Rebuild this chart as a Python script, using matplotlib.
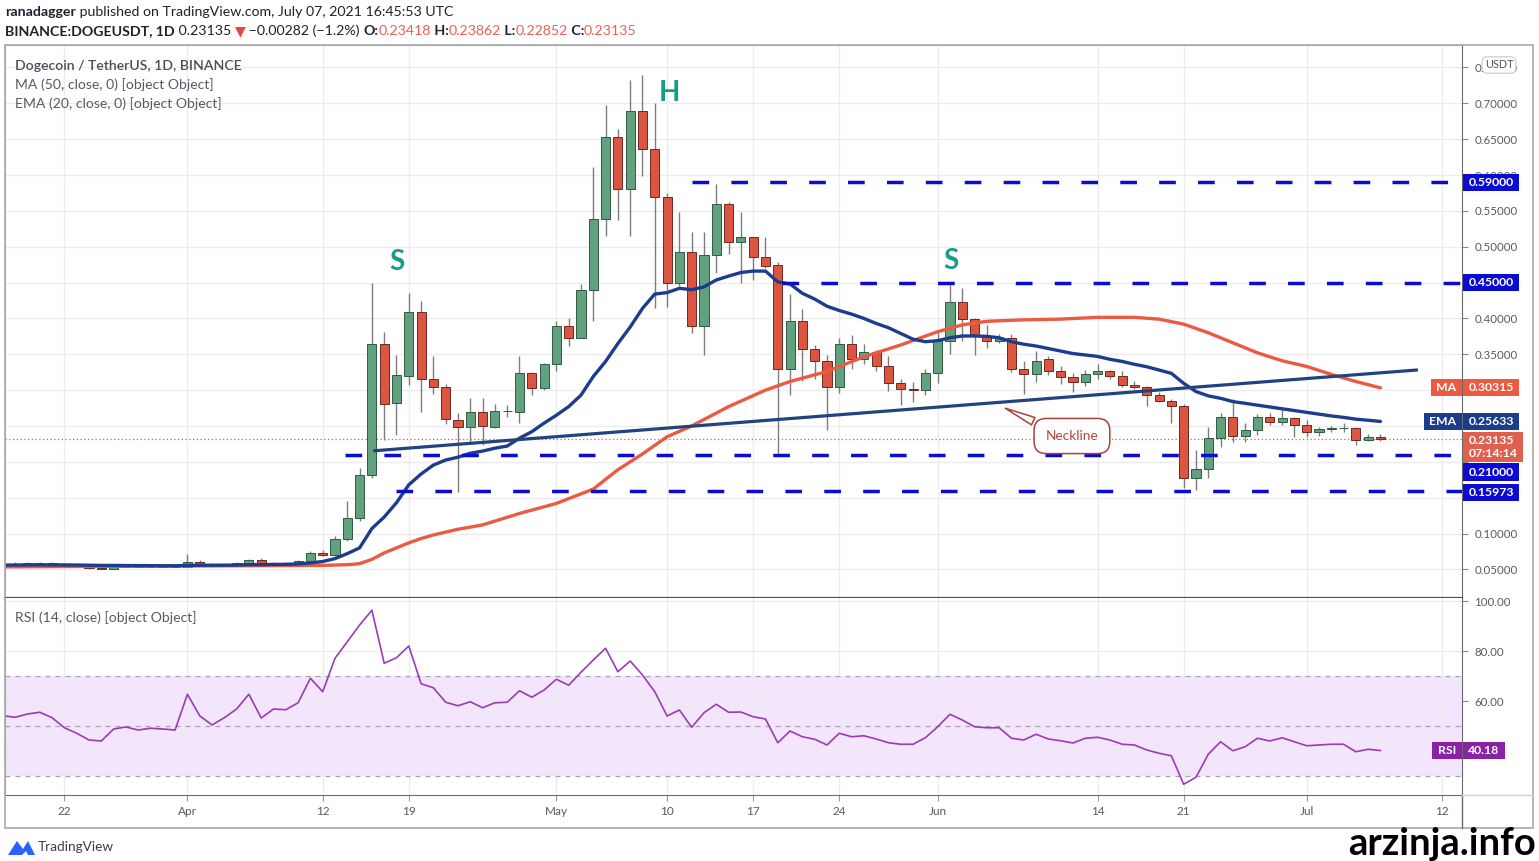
import numpy as np
import pandas as pd
import matplotlib
matplotlib.use("Agg")
import matplotlib.pyplot as plt
import matplotlib.dates as mdates
from matplotlib.patches import Rectangle, Polygon
from matplotlib.lines import Line2D

plt.rcParams['font.family'] = ['Lato', 'DejaVu Sans']

# ---- data ----
dates = pd.date_range('2021-03-17', '2021-07-07', freq='D')

opens = [
    0.0570, 0.0580, 0.0578, 0.0585, 0.0590, 0.0580, 0.0560, 0.0550, 0.0515, 0.0512, 0.0540, 0.0545, 0.0535, 0.0540, 0.0538,
    0.0535, 0.0610, 0.0580, 0.0560, 0.0572, 0.0588, 0.0628, 0.0570, 0.0595, 0.0592, 0.0620, 0.0724, 0.0700, 0.0928, 0.1210,
    0.1810, 0.3640, 0.2820, 0.3200, 0.4090, 0.3160, 0.3050, 0.2590, 0.2490, 0.2690, 0.2490, 0.2710, 0.2700, 0.3234, 0.3030,
    0.3360, 0.3900, 0.3730, 0.4400, 0.5380, 0.6530, 0.5800, 0.6890, 0.6360, 0.5700, 0.4490, 0.4930, 0.3890, 0.4880, 0.5600,
    0.5070, 0.5130, 0.4860, 0.4740, 0.3290, 0.3960, 0.3570, 0.3410, 0.3050, 0.3650, 0.3440, 0.3530, 0.3340, 0.3100, 0.3015, 0.3000,
    0.3240, 0.3690, 0.4225, 0.3990, 0.3755, 0.3690, 0.3720, 0.3300, 0.3230, 0.3430, 0.3260, 0.3180, 0.3110, 0.3220, 0.3270,
    0.3190, 0.3070, 0.3050, 0.2930, 0.2850, 0.2780, 0.1770, 0.1895, 0.2336, 0.2630, 0.2360, 0.2443, 0.2630, 0.2550, 0.2614,
    0.2513, 0.2420, 0.2453, 0.2467, 0.2470, 0.2304, 0.23418,
]
highs = [
    0.0590, 0.0600, 0.0600, 0.0610, 0.0605, 0.0590, 0.0570, 0.0565, 0.0530, 0.0545, 0.0550, 0.0550, 0.0550, 0.0548, 0.0545,
    0.0714, 0.0625, 0.0595, 0.0585, 0.0600, 0.0640, 0.0665, 0.0605, 0.0610, 0.0630, 0.0760, 0.0770, 0.0960, 0.1450, 0.1910,
    0.4490, 0.3810, 0.3490, 0.4350, 0.4240, 0.3470, 0.3090, 0.2680, 0.2890, 0.2890, 0.2800, 0.2790, 0.3480, 0.3250, 0.3380,
    0.3970, 0.4000, 0.4480, 0.6110, 0.6970, 0.6640, 0.7320, 0.7390, 0.7000, 0.5750, 0.5490, 0.5210, 0.5200, 0.5880, 0.5630,
    0.5490, 0.5140, 0.5140, 0.4780, 0.4340, 0.4130, 0.3630, 0.3490, 0.3720, 0.3770, 0.3650, 0.3560, 0.3480, 0.3160, 0.3120, 0.3290,
    0.3840, 0.4470, 0.4430, 0.4010, 0.3910, 0.3780, 0.3780, 0.3410, 0.3540, 0.3480, 0.3330, 0.3240, 0.3280, 0.3370, 0.3280,
    0.3260, 0.3130, 0.3060, 0.2980, 0.2870, 0.2810, 0.2165, 0.2480, 0.2685, 0.2870, 0.2540, 0.2670, 0.2680, 0.2745, 0.2620,
    0.2590, 0.2480, 0.2500, 0.2537, 0.2490, 0.2390, 0.23862,
]
lows = [
    0.0555, 0.0565, 0.0570, 0.0578, 0.0570, 0.0555, 0.0540, 0.0510, 0.0500, 0.0510, 0.0530, 0.0530, 0.0530, 0.0530, 0.0528,
    0.0530, 0.0570, 0.0550, 0.0555, 0.0565, 0.0580, 0.0550, 0.0565, 0.0580, 0.0585, 0.0615, 0.0680, 0.0690, 0.0900, 0.1170,
    0.1770, 0.2300, 0.2370, 0.3070, 0.2690, 0.2950, 0.2530, 0.1580, 0.2280, 0.2235, 0.2467, 0.2630, 0.2540, 0.2930, 0.3000,
    0.3260, 0.3610, 0.3720, 0.3970, 0.5150, 0.5370, 0.5150, 0.5990, 0.4140, 0.4160, 0.4450, 0.3800, 0.3490, 0.4630, 0.4900,
    0.4490, 0.4540, 0.4700, 0.2095, 0.2930, 0.3130, 0.3160, 0.2450, 0.2960, 0.3300, 0.3360, 0.3260, 0.2990, 0.2790, 0.2840, 0.2930,
    0.3095, 0.3500, 0.3690, 0.3490, 0.3590, 0.3660, 0.3250, 0.2950, 0.3120, 0.3210, 0.3090, 0.2980, 0.3060, 0.3160, 0.3160,
    0.3050, 0.3020, 0.2780, 0.2830, 0.2540, 0.1630, 0.1606, 0.1780, 0.2200, 0.2280, 0.2280, 0.2374, 0.2510, 0.2510, 0.2350,
    0.2350, 0.2365, 0.2420, 0.2420, 0.2234, 0.2285, 0.22852,
]
closes = [
    0.0580, 0.0578, 0.0585, 0.0590, 0.0580, 0.0560, 0.0550, 0.0515, 0.0512, 0.0540, 0.0545, 0.0535, 0.0540, 0.0538, 0.0535,
    0.0610, 0.0580, 0.0560, 0.0572, 0.0588, 0.0628, 0.0570, 0.0595, 0.0592, 0.0620, 0.0724, 0.0700, 0.0928, 0.1210, 0.1810,
    0.3640, 0.2810, 0.3210, 0.4090, 0.3160, 0.3050, 0.2600, 0.2490, 0.2695, 0.2500, 0.2710, 0.2715, 0.3234, 0.3030, 0.3370,
    0.3900, 0.3720, 0.4400, 0.5390, 0.6530, 0.5800, 0.6890, 0.6360, 0.5690, 0.4490, 0.4930, 0.3890, 0.4880, 0.5600, 0.5070,
    0.5130, 0.4860, 0.4735, 0.3290, 0.3960, 0.3570, 0.3410, 0.3050, 0.3650, 0.3440, 0.3530, 0.3340, 0.3100, 0.3015, 0.3000, 0.3240,
    0.3690, 0.4225, 0.3990, 0.3755, 0.3690, 0.3720, 0.3300, 0.3230, 0.3410, 0.3260, 0.3180, 0.3110, 0.3220, 0.3270, 0.3190,
    0.3070, 0.3050, 0.2930, 0.2850, 0.2780, 0.1770, 0.1895, 0.2336, 0.2630, 0.2360, 0.2443, 0.2630, 0.2550, 0.2614, 0.2513,
    0.2420, 0.2453, 0.2467, 0.2470, 0.2304, 0.2342, 0.23135,
]
ema20 = [
    0.0560, 0.0561, 0.0562, 0.0563, 0.0563, 0.0562, 0.0561, 0.0558, 0.0556, 0.0555, 0.0554, 0.0553, 0.0552, 0.0551, 0.0550,
    0.0556, 0.0558, 0.0558, 0.0559, 0.0560, 0.0566, 0.0566, 0.0569, 0.0571, 0.0576, 0.0590, 0.0610, 0.0650, 0.0720, 0.0800,
    0.1070, 0.1230, 0.1430, 0.1680, 0.1830, 0.1955, 0.2025, 0.2065, 0.2120, 0.2150, 0.2190, 0.2220, 0.2330, 0.2420, 0.2540,
    0.2650, 0.2770, 0.2930, 0.3190, 0.3400, 0.3650, 0.3880, 0.4140, 0.4340, 0.4360, 0.4420, 0.4400, 0.4440, 0.4536, 0.4590,
    0.4640, 0.4660, 0.4660, 0.4510, 0.4480, 0.4350, 0.4270, 0.4170, 0.4110, 0.4060, 0.4000, 0.3930, 0.3870, 0.3790, 0.3710, 0.3675,
    0.3690, 0.3730, 0.3755, 0.3755, 0.3750, 0.3730, 0.3675, 0.3640, 0.3615, 0.3580, 0.3545, 0.3510, 0.3490, 0.3470, 0.3430,
    0.3400, 0.3360, 0.3326, 0.3280, 0.3234, 0.3095, 0.2980, 0.2920, 0.2886, 0.2840, 0.2816, 0.2790, 0.2765, 0.2740, 0.2715,
    0.2690, 0.2665, 0.2640, 0.2620, 0.2595, 0.2580, 0.25633,
]
rsi14 = [
    54.1, 53.5, 54.8, 55.5, 53.3, 49.3, 47.1, 44.4, 44.0, 48.8, 49.6, 48.4, 49.1, 48.8, 48.4,
    62.7, 54.1, 50.4, 53.3, 56.8, 62.7, 53.2, 56.8, 56.5, 59.3, 69.1, 63.7, 77.1, 83.7, 90.4,
    96.3, 75.1, 77.3, 82.0, 66.9, 65.3, 59.5, 58.1, 59.7, 57.3, 59.3, 59.5, 64.1, 61.5, 64.4,
    68.7, 66.3, 71.5, 76.4, 81.1, 71.7, 76.0, 70.4, 63.7, 54.0, 56.4, 49.5, 55.3, 58.7, 55.5,
    55.6, 53.7, 52.8, 43.3, 48.0, 45.7, 44.7, 42.4, 47.1, 45.7, 46.1, 44.8, 43.3, 42.7, 42.7, 45.3,
    49.7, 54.7, 52.4, 49.7, 49.3, 49.3, 45.1, 44.4, 46.7, 44.8, 44.1, 43.2, 45.1, 45.5, 44.4,
    42.7, 42.4, 40.4, 39.1, 38.1, 26.7, 29.5, 38.7, 43.7, 40.1, 41.7, 45.1, 44.0, 45.3, 43.7,
    42.1, 42.4, 42.7, 42.7, 39.7, 40.7, 40.18,
]

# 50-day MA, read at points along the line
ma50_dates = ['2021-03-17', '2021-03-28', '2021-04-05', '2021-04-12', '2021-04-14', '2021-04-15', '2021-04-16',
              '2021-04-17', '2021-04-18', '2021-04-19', '2021-04-20', '2021-04-21', '2021-04-23', '2021-04-25',
              '2021-04-28', '2021-05-01', '2021-05-04', '2021-05-06', '2021-05-08', '2021-05-10', '2021-05-12',
              '2021-05-15', '2021-05-18', '2021-05-20', '2021-05-23', '2021-05-26', '2021-05-29', '2021-06-01',
              '2021-06-03', '2021-06-05', '2021-06-08', '2021-06-11', '2021-06-14', '2021-06-17', '2021-06-19',
              '2021-06-21', '2021-06-23', '2021-06-25', '2021-06-27', '2021-06-29', '2021-07-01', '2021-07-03',
              '2021-07-05', '2021-07-07']
ma50_vals = [0.0535, 0.0545, 0.0550, 0.0556, 0.0565, 0.0580, 0.0640,
             0.0730, 0.0800, 0.0870, 0.0930, 0.0980, 0.1060, 0.1120,
             0.1280, 0.1420, 0.1620, 0.1890, 0.2110, 0.2350, 0.2500,
             0.2770, 0.3000, 0.3120, 0.3260, 0.3466, 0.3630, 0.3815,
             0.3910, 0.3960, 0.3980, 0.3990, 0.4015, 0.4015, 0.3990,
             0.3920, 0.3800, 0.3660, 0.3520, 0.3410, 0.3330, 0.3220,
             0.3120, 0.30315]

# drawn levels and neckline
level_prices = [0.59, 0.45, 0.21, 0.15973]
level_labels = ['0.59000', '0.45000', '0.21000', '0.15973']
level_starts = ['2021-05-12 00:00', '2021-05-19 08:00', '2021-04-13 20:00', '2021-04-18 00:00']
neck_dates = ['2021-04-16 06:00', '2021-07-09 22:00']
neck_prices = [0.2155, 0.328]
last_price = 0.23135
ma_last, ema_last, rsi_last = 0.30315, 0.25633, 40.18

price_ticks = [0.05, 0.10, 0.15, 0.20, 0.25, 0.30, 0.35, 0.40, 0.45, 0.50, 0.55, 0.60, 0.65, 0.70, 0.75]
hidden_price_ticks = [0.15, 0.20, 0.25, 0.30, 0.45]   # covered by the tags in the original
rsi_ticks = [40, 60, 80, 100]

tick_dates = ['2021-03-22', '2021-04-01', '2021-04-12', '2021-04-19', '2021-05-01', '2021-05-10', '2021-05-17',
              '2021-05-24', '2021-06-01', '2021-06-14', '2021-06-21', '2021-07-01', '2021-07-12']
tick_labels = ['22', 'Apr', '12', '19', 'May', '10', '17', '24', 'Jun', '14', '21', 'Jul', '12']


def dnum(s):
    return mdates.date2num(pd.to_datetime(s).to_pydatetime())


x = mdates.date2num(dates.to_pydatetime())
o, h, l, c = map(np.array, (opens, highs, lows, closes))

# ---- figure in pixel layout ----
W, H = 1539, 861
fig = plt.figure(figsize=(W / 100, H / 100), dpi=100)


def fx(px):
    return px / W


def fy(py):
    return 1 - py / H


L, R = 5, 1462
ax = fig.add_axes([fx(L), fy(598), fx(R) - fx(L), fy(45) - fy(598)])
rax = fig.add_axes([fx(L), fy(795), fx(R) - fx(L), fy(598) - fy(795)], sharex=ax)

GREEN, GREEN_E = '#62a17e', '#2f5b43'
RED, RED_E = '#dc5541', '#6e2a20'
EMA_C, MA_C = '#1c3d8c', '#ec5a42'
LVL_C = '#0b0bd2'
GRID = '#ececf0'
TXT = '#555a63'

apr12 = dnum('2021-04-12')
ax.set_xlim(apr12 - 25.83, apr12 + 92.63)
ax.set_ylim(0.0101, 0.7813)
rax.set_ylim(22.4, 101.2)

# candles
up = c >= o
ax.vlines(x, l, h, color='#7d7d7d', lw=1, zorder=3)
ax.bar(x[up], (c - o)[up], bottom=o[up], width=0.74, color=GREEN, edgecolor=GREEN_E, lw=0.7, zorder=4)
ax.bar(x[~up], (o - c)[~up], bottom=c[~up], width=0.74, color=RED, edgecolor=RED_E, lw=0.7, zorder=4)

# moving averages
ax.plot(dnum(ma50_dates), ma50_vals, color=MA_C, lw=2.4, zorder=5, solid_capstyle='round')
ax.plot(x, ema20, color=EMA_C, lw=2.4, zorder=5, solid_capstyle='round')

# neckline and levels
ax.plot(dnum(neck_dates), neck_prices, color='#23437e', lw=2.3, zorder=6)
xr = ax.get_xlim()[1]
for p, s in zip(level_prices, level_starts):
    ax.plot([dnum(s), xr], [p, p], color=LVL_C, lw=2.5, dashes=(4.8, 6.4), zorder=6)
ax.axhline(last_price, color='#e05a4a', lw=0.9, ls=(0, (1, 2)), zorder=2)

# pattern letters
for s, d, p in [('S', '2021-04-18', 0.479), ('H', '2021-05-10 05:00', 0.714), ('S', '2021-06-02 01:00', 0.480)]:
    ax.text(dnum(d), p, s, color='#179c89', fontsize=20, fontweight='bold', ha='center', va='center', zorder=7)

ax.annotate('Neckline', xy=(dnum('2021-06-06 07:00'), 0.2764), xytext=(dnum('2021-06-11 22:00'), 0.236),
            ha='center', va='center', color='#b5453f', fontsize=9.8, zorder=8,
            bbox=dict(boxstyle='round,pad=0.85,rounding_size=0.9', fc='white', ec='#a8423a', lw=1.1),
            arrowprops=dict(arrowstyle='wedge,tail_width=0.6,shrink_factor=0.5', fc='white', ec='#a8423a',
                            lw=1.1, relpos=(0.15, 0.95)))

# RSI pane
rax.axhspan(30, 70, color='#f3e5fb', lw=0, zorder=1)
for lv in (70, 50, 30):
    rax.axhline(lv, color='#a3a3ad', lw=0.9, dashes=(4, 4), zorder=2)
rax.plot(x, rsi14, color='#9c3bb4', lw=1.2, zorder=4)

# ticks, grid, spines
xt = dnum(tick_dates)
rax.set_xticks(xt)
rax.set_xticklabels(tick_labels)
ax.tick_params(axis='x', bottom=False, labelbottom=False)
rax.tick_params(axis='x', length=4, color='#999', labelcolor=TXT, labelsize=8.5, pad=4)

ax.yaxis.tick_right()
ax.set_yticks(price_ticks)
ax.set_yticklabels(['' if v in hidden_price_ticks else '%.5f' % v for v in price_ticks])
rax.yaxis.tick_right()
rax.set_yticks(rsi_ticks)
rax.set_yticklabels(['' if v == 40 else '%.2f' % v for v in rsi_ticks])
for a in (ax, rax):
    a.tick_params(axis='y', length=4, color='#888', labelcolor=TXT, labelsize=8.3, pad=5)
    a.grid(True, color=GRID, lw=1, zorder=0)
    a.set_facecolor('white')
    a.spines['left'].set_color('#b5b5b5')
    a.spines['right'].set_color('#6a6a6a')
    a.spines['top'].set_color('#b5b5b5')
ax.spines['bottom'].set_color('#505050')
ax.spines['bottom'].set_linewidth(1.6)
rax.spines['top'].set_visible(False)
rax.spines['bottom'].set_color('#6a6a6a')

# right-hand price tags
yt = ax.get_yaxis_transform()
ryt = rax.get_yaxis_transform()


def tag(a, trans, y, text, fc, dy=0, right=False, size=8.8):
    a.annotate(text, xy=(1.0, y), xycoords=trans, xytext=(-4.2 if right else 4.6, dy), textcoords='offset points',
               ha='right' if right else 'left', va='center', color='white', fontsize=size, fontweight='bold',
               annotation_clip=False, zorder=20,
               bbox=dict(boxstyle='square,pad=0.45', mutation_aspect=0.55, fc=fc, ec='none'))


for p, t in zip(level_prices, level_labels):
    tag(ax, yt, p, t, LVL_C, dy=-12.5 if p == 0.21 else (-1 if p < 0.2 else 0))
tag(ax, yt, ma_last, '%.5f' % ma_last, MA_C)
tag(ax, yt, ma_last, 'MA', MA_C, right=True)
tag(ax, yt, ema_last, '%.5f' % ema_last, EMA_C)
tag(ax, yt, ema_last, 'EMA', EMA_C, right=True)
tag(ax, yt, last_price, '%.5f\n07:14:14' % last_price, '#e0604f', dy=-5.5)
tag(rax, ryt, rsi_last, '%.2f' % rsi_last, '#8a22a6')
tag(rax, ryt, rsi_last, 'RSI', '#8a22a6', right=True)

fig.text(fx(1499), fy(65), 'USDT', ha='center', va='center', fontsize=7.8, color='#555',
         bbox=dict(boxstyle='round,pad=0.25,rounding_size=0.5', fc='white', ec='#c8c8c8', lw=0.8))

# frame around chart + axis column
fig.add_artist(Rectangle((fx(5), fy(828)), fx(1533) - fx(5), fy(45) - fy(828), transform=fig.transFigure,
                         fill=False, ec='#a8a8a8', lw=1.2))
fig.add_artist(Line2D([fx(R), fx(R)], [fy(795), fy(828)], color='#6a6a6a', lw=1))
fig.add_artist(Line2D([fx(R), fx(1533)], [fy(795), fy(795)], color='#d0d0d0', lw=1))

# header / legend rows of mixed-colour text
rend = fig.canvas.get_renderer()


def text_row(x0, y0, parts, size):
    xx = x0
    for s, col, wt in parts:
        t = fig.text(fx(xx), fy(y0), s, color=col, fontsize=size, fontweight=wt, ha='left', va='center')
        xx += t.get_window_extent(renderer=rend).width


DK, SAL = '#1e222d', '#ef5f55'
HS = 10.15
text_row(5, 12, [('ranadagger', DK, 'bold'), (' published on TradingView.com, July 07, 2021 16:45:53 UTC', DK, 'normal')], HS)
text_row(5, 31, [('BINANCE:DOGEUSDT, 1D', DK, 'bold'), (' 0.23135 ', DK, 'normal'), ('▼', '#e8453c', 'normal'),
                 (' \u22120.00282 (\u22121.2%) ', DK, 'normal'), ('O:', DK, 'bold'), ('0.23418', SAL, 'normal'),
                 (' H:', DK, 'bold'), ('0.23862', SAL, 'normal'), (' L:', DK, 'bold'), ('0.22852', SAL, 'normal'),
                 (' C:', DK, 'bold'), ('0.23135', SAL, 'normal')], HS)

LS = 10.1
fig.text(fx(15), fy(66), 'Dogecoin / TetherUS, 1D, BINANCE', fontsize=LS, color='#4a4e57', fontweight='semibold', va='center')
fig.text(fx(15), fy(85), 'MA (50, close, 0) [object Object]', fontsize=LS, color='#555a63', va='center')
fig.text(fx(15), fy(104), 'EMA (20, close, 0) [object Object]', fontsize=LS, color='#555a63', va='center')
fig.text(fx(15), fy(618), 'RSI (14, close) [object Object]', fontsize=LS, color='#555a63', va='center')

# footer
fig.add_artist(Polygon([(fx(8), fy(855)), (fx(17), fy(841)), (fx(23), fy(849)), (fx(28), fy(841)),
                        (fx(35), fy(855)), (fx(28), fy(855)), (fx(26), fy(851)), (fx(22), fy(855))],
                       closed=True, transform=fig.transFigure, fc='#2962ff', ec='none'))
fig.text(fx(38), fy(847), 'TradingView', fontsize=9.8, color='#3a3e48', va='center')
fig.text(fx(1536), fy(844), 'arzinja.info', fontsize=27.5, fontweight='bold', color='black', ha='right', va='center')

fig.savefig('out.png', dpi=100, facecolor='white')
